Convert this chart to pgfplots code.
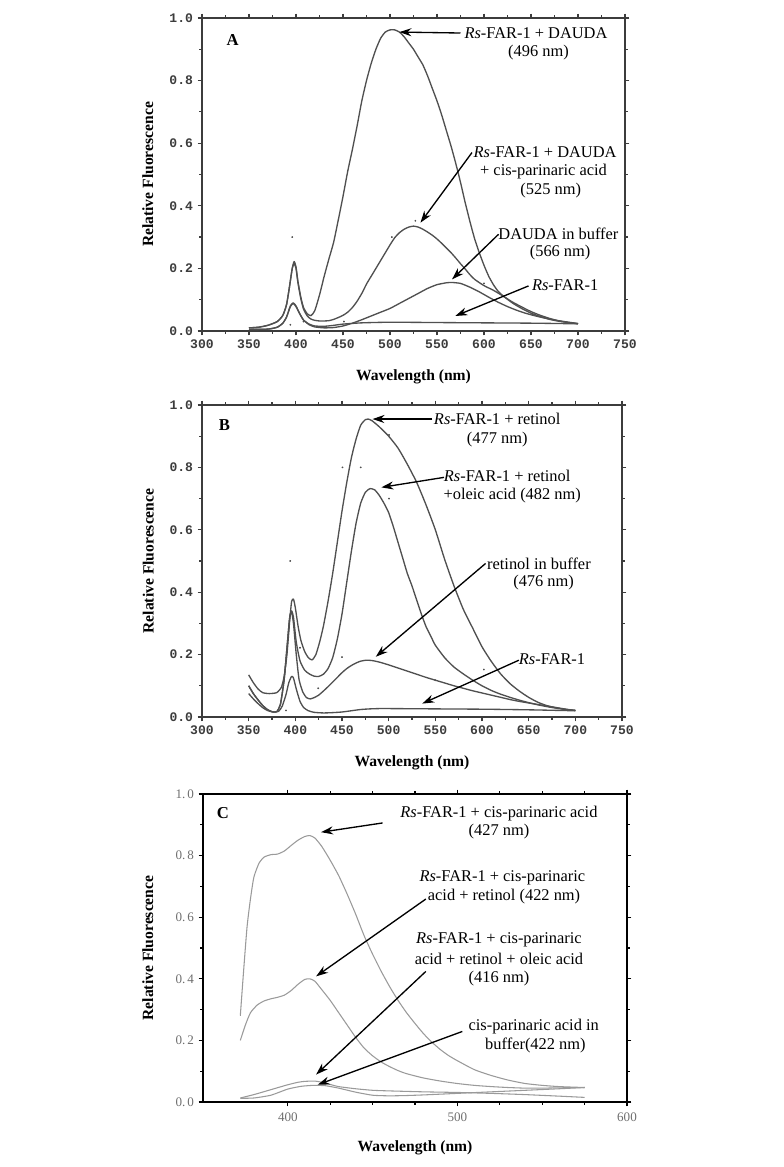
\documentclass[border=0pt]{standalone}
\usepackage{fontspec}
\setmainfont{Liberation Serif}
\newfontfamily\monofont{Liberation Mono}
\usepackage{pgfplots}
\pgfplotsset{compat=1.18}
\usetikzlibrary{arrows.meta}
\definecolor{curveAB}{HTML}{505050}
\definecolor{curveC}{HTML}{9A9A9A}
\definecolor{axAB}{HTML}{3C3C3C}
\definecolor{tlC}{HTML}{6E6E6E}
\newcommand{\annot}{\fontsize{12.3}{14.25}\selectfont}
\newcommand{\albl}{\fontsize{11.7}{13}\selectfont\bfseries}
\tikzset{arr/.style={-{Stealth[length=9pt,width=6pt]}, line width=1pt, black}}
\pgfplotsset{
  common/.style={
    scale only axis, clip=false,
    ymin=0, ymax=1,
    ytick={0,0.2,0.4,0.6,0.8,1},
    minor y tick num=1,
    tick align=outside, major tick length=3.2pt, minor tick length=2.2pt,
    /pgf/number format/assume math mode=true,
    ylabel={Relative Fluorescence}, xlabel={Wavelength (nm)},
    label style={font=\albl},
    every axis plot/.append style={smooth, tension=0.35, line join=round},
  },
  abstyle/.style={
    common,
    xmin=300, xmax=750,
    xtick={300,350,400,450,500,550,600,650,700,750},
    minor x tick num=1,
    axis line style={axAB, line width=1.1pt},
    every tick/.style={axAB, line width=0.9pt},
    ticklabel style={font=\monofont\bfseries\fontsize{9.8}{10}\selectfont, text=axAB},
    yticklabel={\pgfmathprintnumber[fixed,fixed zerofill,precision=1]{\tick}},
    xticklabel={\pgfmathprintnumber[fixed,precision=0]{\tick}},
  },
  crv/.style={curveAB, line width=1pt},
  crvC/.style={curveC, line width=0.8pt},
  dots/.style={only marks, mark=*, mark size=0.5pt, curveAB, draw=none, fill=curveAB},
}
\begin{document}
\begin{tikzpicture}
\path[use as bounding box] (0,0) rectangle (588pt,875.25pt);

%%%%%%%%%%%%%%%%%%%% PANEL A
\begin{axis}[abstyle, at={(151.5pt,627pt)}, anchor=south west,
  width=317.25pt, height=234.75pt,
  ylabel style={at={(axis description cs:-0.128,0.5)}, anchor=center},
  xlabel style={at={(axis description cs:0.5,-0.147)}, anchor=center}]
% Rs-FAR-1 + DAUDA
\addplot[crv] coordinates {
(350,0.010)(360,0.012)(370,0.018)(380,0.030)(386,0.050)(390,0.085)(393,0.14)(396,0.20)(398,0.222)(400,0.205)(402,0.16)(405,0.11)(408,0.075)(412,0.055)(416,0.049)(420,0.065)(425,0.115)(430,0.175)(435,0.23)(440,0.283)(445,0.355)(450,0.43)(455,0.51)(460,0.58)(465,0.655)(470,0.735)(475,0.80)(480,0.855)(485,0.90)(490,0.935)(495,0.955)(500,0.962)(505,0.962)(510,0.955)(515,0.94)(520,0.92)(525,0.90)(530,0.875)(535,0.85)(540,0.815)(545,0.775)(550,0.735)(555,0.69)(560,0.64)(565,0.59)(570,0.535)(575,0.475)(580,0.41)(585,0.35)(590,0.295)(595,0.25)(600,0.21)(605,0.175)(610,0.148)(615,0.127)(620,0.113)(630,0.09)(640,0.072)(650,0.057)(660,0.046)(670,0.037)(680,0.031)(690,0.027)(700,0.023)};
% Rs-FAR-1 + DAUDA + cis-parinaric acid
\addplot[crv] coordinates {
(350,0.010)(360,0.012)(370,0.018)(380,0.030)(386,0.050)(390,0.085)(393,0.14)(396,0.20)(398,0.215)(400,0.20)(402,0.155)(405,0.105)(408,0.07)(412,0.048)(416,0.038)(420,0.034)(425,0.032)(430,0.032)(435,0.033)(440,0.037)(445,0.043)(450,0.05)(455,0.06)(460,0.075)(465,0.095)(470,0.12)(475,0.15)(480,0.175)(485,0.20)(490,0.225)(495,0.25)(500,0.275)(505,0.298)(510,0.314)(515,0.325)(520,0.332)(525,0.335)(530,0.332)(535,0.325)(540,0.316)(545,0.306)(550,0.294)(555,0.28)(560,0.265)(565,0.25)(570,0.233)(575,0.215)(580,0.198)(585,0.18)(590,0.165)(600,0.145)(610,0.13)(620,0.112)(630,0.093)(640,0.077)(650,0.062)(660,0.05)(670,0.04)(680,0.032)(690,0.027)(700,0.023)};
% DAUDA in buffer
\addplot[crv] coordinates {
(350,0.005)(370,0.006)(380,0.012)(386,0.025)(390,0.045)(394,0.08)(397,0.09)(400,0.08)(404,0.055)(408,0.035)(414,0.02)(420,0.013)(430,0.010)(440,0.011)(450,0.016)(460,0.025)(470,0.036)(480,0.048)(490,0.06)(500,0.072)(510,0.088)(520,0.104)(530,0.12)(540,0.136)(550,0.148)(560,0.154)(566,0.155)(575,0.152)(585,0.14)(595,0.125)(605,0.108)(615,0.092)(625,0.078)(635,0.066)(645,0.056)(655,0.048)(665,0.041)(675,0.035)(690,0.028)(700,0.024)};
% Rs-FAR-1
\addplot[crv] coordinates {
(350,0.005)(370,0.006)(380,0.012)(386,0.025)(390,0.045)(394,0.078)(397,0.088)(400,0.078)(404,0.055)(408,0.035)(414,0.022)(420,0.016)(430,0.015)(440,0.018)(450,0.022)(470,0.026)(500,0.028)(550,0.027)(600,0.026)(650,0.025)(700,0.023)};
\addplot[dots] coordinates {(396,0.30)(502,0.30)(527,0.352)(600,0.152)(652,0.053)(451,0.03)(408,0.03)(394,0.02)};
\node[font=\fontsize{12.5}{14}\selectfont\bfseries] at (axis cs:332.5,0.93) {A};
\draw[arr] (axis cs:575,0.952) -- (axis cs:510,0.955);
\node[font=\annot] at (axis cs:655.3,0.952) {\textit{Rs}-FAR-1 + DAUDA};
\node[font=\annot] at (axis cs:658,0.89) {(496 nm)};
\draw[arr] (axis cs:587.2,0.570) -- (axis cs:532.4,0.346);
\node[font=\annot] at (axis cs:665,0.570) {\textit{Rs}-FAR-1 + DAUDA};
\node[font=\annot] at (axis cs:663.3,0.51) {+ cis-parinaric acid};
\node[font=\annot] at (axis cs:671,0.45) {(525 nm)};
\draw[arr] (axis cs:615.5,0.309) -- (axis cs:566,0.165);
\node[font=\annot] at (axis cs:679.2,0.309) {DAUDA in buffer};
\node[font=\annot] at (axis cs:681,0.25) {(566 nm)};
\draw[arr] (axis cs:647.4,0.144) -- (axis cs:569.5,0.048);
\node[font=\annot] at (axis cs:686.3,0.146) {\textit{Rs}-FAR-1};
\end{axis}

%%%%%%%%%%%%%%%%%%%% PANEL B
\begin{axis}[abstyle, at={(151.5pt,337.5pt)}, anchor=south west,
  width=315pt, height=234pt,
  ylabel style={at={(axis description cs:-0.128,0.5)}, anchor=center},
  xlabel style={at={(axis description cs:0.5,-0.147)}, anchor=center}]
% Rs-FAR-1 + retinol
\addplot[crv] coordinates {
(350,0.135)(355,0.11)(360,0.09)(365,0.078)(372,0.075)(380,0.078)(385,0.095)(388,0.13)(391,0.20)(394,0.31)(396,0.37)(398,0.378)(400,0.35)(403,0.29)(406,0.245)(410,0.21)(414,0.19)(418,0.183)(422,0.20)(426,0.24)(430,0.29)(435,0.37)(440,0.46)(445,0.56)(450,0.66)(455,0.75)(460,0.83)(465,0.89)(470,0.935)(475,0.953)(478,0.955)(482,0.95)(490,0.93)(500,0.90)(510,0.862)(520,0.81)(530,0.752)(540,0.68)(550,0.60)(560,0.505)(570,0.42)(580,0.345)(590,0.285)(600,0.225)(610,0.178)(620,0.138)(630,0.107)(640,0.083)(650,0.063)(660,0.047)(670,0.036)(680,0.029)(690,0.024)(700,0.021)};
% Rs-FAR-1 + retinol + oleic acid
\addplot[crv] coordinates {
(350,0.10)(355,0.075)(360,0.055)(365,0.037)(370,0.024)(375,0.017)(380,0.017)(384,0.04)(388,0.12)(391,0.22)(394,0.32)(396,0.34)(398,0.32)(401,0.24)(405,0.18)(410,0.15)(415,0.138)(420,0.131)(425,0.13)(430,0.137)(435,0.155)(440,0.19)(445,0.25)(450,0.33)(455,0.43)(460,0.53)(465,0.62)(470,0.685)(475,0.72)(480,0.732)(485,0.728)(490,0.71)(495,0.685)(500,0.655)(505,0.61)(510,0.56)(515,0.51)(520,0.46)(525,0.42)(530,0.375)(535,0.33)(540,0.29)(545,0.26)(550,0.23)(560,0.19)(570,0.16)(580,0.138)(590,0.118)(600,0.10)(610,0.085)(620,0.073)(630,0.063)(640,0.054)(650,0.046)(660,0.039)(670,0.033)(680,0.028)(690,0.024)(700,0.021)};
% retinol in buffer
\addplot[crv] coordinates {
(350,0.10)(355,0.075)(360,0.055)(365,0.037)(370,0.024)(375,0.017)(380,0.017)(384,0.04)(388,0.12)(391,0.22)(394,0.32)(396,0.335)(398,0.30)(401,0.20)(404,0.12)(408,0.08)(412,0.062)(416,0.058)(420,0.062)(425,0.07)(430,0.083)(435,0.097)(440,0.112)(445,0.127)(450,0.142)(455,0.155)(460,0.165)(465,0.173)(470,0.179)(476,0.182)(482,0.181)(490,0.176)(500,0.167)(510,0.157)(520,0.147)(530,0.137)(540,0.127)(550,0.118)(560,0.109)(570,0.10)(580,0.092)(590,0.084)(600,0.077)(610,0.07)(620,0.063)(630,0.056)(640,0.05)(650,0.045)(660,0.04)(670,0.035)(680,0.03)(690,0.025)(700,0.021)};
% Rs-FAR-1
\addplot[crv] coordinates {
(350,0.075)(355,0.058)(360,0.043)(365,0.03)(370,0.021)(376,0.016)(382,0.018)(386,0.035)(390,0.072)(393,0.11)(396,0.13)(398,0.125)(401,0.09)(405,0.05)(409,0.03)(414,0.02)(420,0.015)(430,0.013)(440,0.014)(450,0.016)(460,0.02)(470,0.024)(480,0.026)(490,0.027)(500,0.027)(550,0.026)(600,0.025)(650,0.023)(700,0.02)};
\addplot[dots] coordinates {(394.5,0.50)(450.5,0.80)(470,0.80)(500.4,0.904)(500.4,0.70)(450,0.192)(424.5,0.092)(550,0.118)(602,0.152)(405,0.222)(390,0.021)};
\node[font=\fontsize{12.5}{14}\selectfont\bfseries] at (axis cs:324,0.936) {B};
\draw[arr] (axis cs:546.8,0.955) -- (axis cs:482.6,0.955);
\node[font=\annot] at (axis cs:616.3,0.955) {\textit{Rs}-FAR-1 + retinol};
\node[font=\annot] at (axis cs:616.3,0.89) {(477 nm)};
\draw[arr] (axis cs:559.3,0.768) -- (axis cs:492.2,0.736);
\node[font=\annot] at (axis cs:627,0.772) {\textit{Rs}-FAR-1 + retinol};
\node[font=\annot] at (axis cs:632.4,0.71) {+oleic acid (482 nm)};
\draw[arr] (axis cs:603.8,0.492) -- (axis cs:486.2,0.193);
\node[font=\annot] at (axis cs:661,0.492) {retinol in buffer};
\node[font=\annot] at (axis cs:666,0.43) {(476 nm)};
\draw[arr] (axis cs:639.5,0.182) -- (axis cs:536,0.043);
\node[font=\annot] at (axis cs:675,0.184) {\textit{Rs}-FAR-1};
\end{axis}

%%%%%%%%%%%%%%%%%%%% PANEL C
\begin{axis}[common, at={(152.25pt,48.75pt)}, anchor=south west,
  width=318pt, height=231pt,
  xmin=350, xmax=600, xtick={400,500,600}, minor x tick num=3,
  axis line style={black, line width=1.1pt},
  every tick/.style={black, line width=0.9pt},
  ticklabel style={font=\fontsize{9.8}{10}\selectfont, text=tlC},
  xticklabel style={yshift=-1.5pt},
  yticklabels={{0.\,0},{0.\,2},{0.\,4},{0.\,6},{0.\,8},{1.\,0}},
  xticklabel={\pgfmathprintnumber[fixed,precision=0]{\tick}},
  ylabel style={at={(axis description cs:-0.13,0.5)}, anchor=center},
  xlabel style={at={(axis description cs:0.5,-0.149)}, anchor=center}]
% Rs-FAR-1 + cis-parinaric acid
\addplot[crvC] coordinates {
(372,0.28)(374,0.43)(376,0.57)(378,0.66)(380,0.73)(383,0.775)(386,0.795)(390,0.803)(394,0.805)(398,0.815)(402,0.833)(406,0.85)(410,0.862)(413,0.865)(416,0.857)(420,0.83)(425,0.785)(430,0.735)(435,0.675)(440,0.61)(445,0.54)(450,0.48)(455,0.425)(460,0.375)(465,0.33)(470,0.29)(475,0.255)(480,0.222)(485,0.194)(490,0.17)(495,0.15)(500,0.134)(510,0.105)(520,0.086)(530,0.071)(540,0.06)(550,0.054)(560,0.05)(575,0.047)};
% + retinol
\addplot[crvC] coordinates {
(372,0.20)(375,0.25)(378,0.29)(382,0.315)(386,0.328)(390,0.335)(394,0.34)(398,0.347)(402,0.362)(406,0.382)(410,0.398)(413,0.40)(416,0.392)(420,0.365)(425,0.33)(430,0.29)(435,0.25)(440,0.21)(445,0.175)(450,0.15)(455,0.13)(460,0.115)(465,0.102)(470,0.092)(480,0.078)(490,0.068)(500,0.06)(510,0.054)(520,0.05)(530,0.047)(540,0.045)(550,0.045)(560,0.046)(575,0.047)};
% + retinol + oleic acid
\addplot[crvC] coordinates {
(372,0.013)(380,0.024)(390,0.04)(400,0.056)(406,0.064)(410,0.067)(416,0.068)(420,0.064)(425,0.057)(430,0.05)(440,0.043)(450,0.038)(460,0.036)(480,0.033)(500,0.031)(520,0.028)(540,0.024)(560,0.019)(575,0.015)};
% cis-parinaric acid in buffer
\addplot[crvC] coordinates {
(372,0.012)(380,0.013)(390,0.022)(400,0.042)(408,0.051)(415,0.054)(422,0.053)(430,0.045)(440,0.032)(450,0.022)(460,0.02)(470,0.021)(480,0.023)(500,0.028)(520,0.033)(540,0.038)(560,0.043)(575,0.047)};
\node[font=\fontsize{12.5}{14}\selectfont\bfseries] at (axis cs:361.8,0.938) {C};
\draw[arr] (axis cs:455.9,0.906) -- (axis cs:419.6,0.876);
\node[font=\annot] at (axis cs:524.5,0.938) {\textit{Rs}-FAR-1 + cis-parinaric acid};
\node[font=\annot] at (axis cs:524.5,0.879) {(427 nm)};
\draw[arr] (axis cs:481.4,0.659) -- (axis cs:416.7,0.408);
\node[font=\annot] at (axis cs:526.5,0.727) {\textit{Rs}-FAR-1 + cis-parinaric};
\node[font=\annot] at (axis cs:527.5,0.666) {acid + retinol (422 nm)};
\draw[arr] (axis cs:481.4,0.424) -- (axis cs:416.7,0.089);
\node[font=\annot] at (axis cs:524.5,0.527) {\textit{Rs}-FAR-1 + cis-parinaric};
\node[font=\annot] at (axis cs:524.5,0.464) {acid + retinol + oleic acid};
\node[font=\annot] at (axis cs:524.5,0.40) {(416 nm)};
\draw[arr] (axis cs:502.9,0.229) -- (axis cs:417.6,0.056);
\node[font=\annot] at (axis cs:545,0.246) {cis-parinaric acid in};
\node[font=\annot] at (axis cs:546,0.183) {buffer(422 nm)};
\end{axis}
\end{tikzpicture}
\end{document}
